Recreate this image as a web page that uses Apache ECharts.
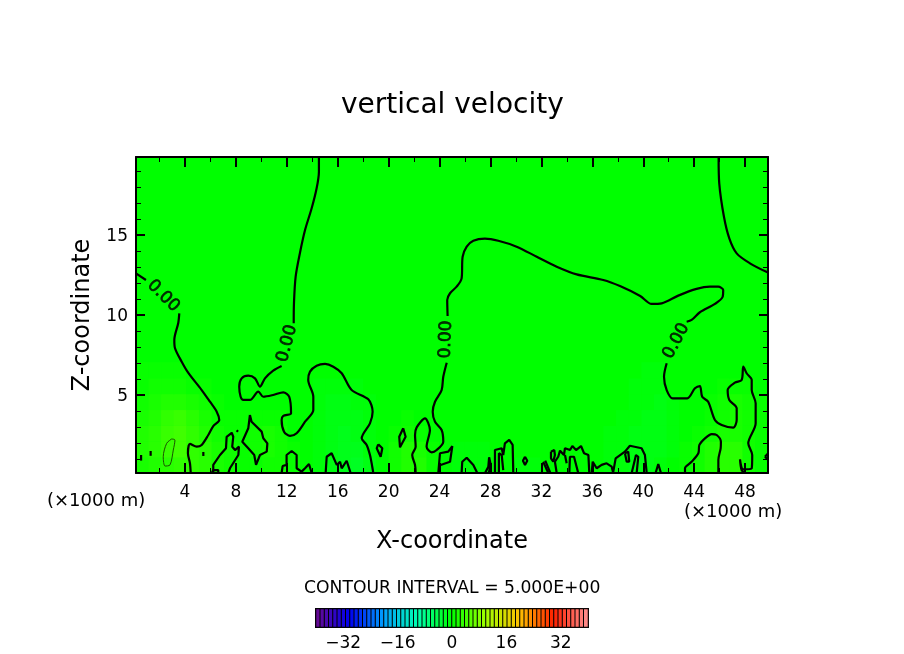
<!DOCTYPE html>
<html>
<head>
<meta charset="utf-8">
<title>vertical velocity</title>
<script src="https://cdn.jsdelivr.net/npm/echarts@6/dist/echarts.min.js"></script>
<style>
  html, body { margin: 0; padding: 0; background: #fff; }
  #chart { width: 904px; height: 654px; }
</style>
</head>
<body>
<div id="chart"></div>
<script>
const FONT = '"DejaVu Sans", sans-serif';

const xMajorTicks = [4, 8, 12, 16, 20, 24, 28, 32, 36, 40, 44, 48];
const xMinorTicks = [2, 6, 10, 14, 18, 22, 26, 30, 34, 38, 42, 46];
const zMajorTicks = [5, 10, 15];
const zMinorTicks = [1, 2, 3, 4, 6, 7, 8, 9, 11, 12, 13, 14, 16, 17, 18, 19];
const barTicks = [-32, -16, 0, 16, 32];

// shaded w field, 1 km cells, rows from the ground up (above 7 km it is plain zero)
const fieldZ0 = [1.5,2,2.5,3,3,2.5,1.5,1,0.5,0.5,1,1,0.5,0,-0.5,-1,-1.5,-2,-1,0,1,2,2,0.5,0,-0.5,-0.5,-0.5,0,0,-0.5,-0.5,0,0,0,0,0,-0.5,-0.5,-1,-1,-0.5,0,0.5,1,2,2.5,2.5,1,0.5];
const fieldZ1 = [2,2.5,3.5,4,3,2.5,1.5,1,0.5,1,1.5,1,0.5,0,-0.5,-1,-1.5,-1.5,-0.5,0,1,2,1.5,0.5,0,-0.5,-0.5,-0.5,0,0,0,0,0,0,0,0,0,-0.5,-0.5,-1,-1,-1,-0.5,0.5,1,2,2.5,2.5,1,0.5];
const fieldZ2 = [2,2.5,3.5,4,3,2,1,0.5,0.5,1,1.5,1,0,0,-0.5,-1,-1.5,-1,-0.5,0,0.5,1,0.5,0,0,0,0,0,0,0,0,0,0,0,0,0,0,-0.5,-0.5,-1,-1,-1,-0.5,0,0.5,1,1.5,1.5,1,0.5];
const fieldZ3 = [1.5,2,3,3.5,2.5,1.5,0.5,0.5,0.5,0.5,0.5,0.5,0,0,-0.5,-1,-1,-1,-0.5,0,0,0.5,0,0,0,0,0,0,0,0,0,0,0,0,0,0,0,0,-0.5,-0.5,-1,-1,-0.5,0,0,0.5,1,1.5,1,0.5];
const fieldZ4 = [1,1.5,2,2,1.5,1,0.5,0,0,0,0,0,0,0,-0.5,-1,-1,-0.5,-0.5,0,0,0,0,0,0,0,0,0,0,0,0,0,0,0,0,0,0,0,0,-0.5,-0.5,-1,-0.5,0,0,0.5,1,1.5,1,0.5];
const fieldZ5 = [0.5,1,1,1,0.5,0.5,0,0,0,0,0,0,0,0,-0.5,-0.5,-0.5,-0.5,0,0,0,0,0,0,0,0,0,0,0,0,0,0,0,0,0,0,0,0,0,-0.5,-0.5,-0.5,0,0,0,0,0.5,0.5,0.5,0];
const fieldZ6 = [0.5,0.5,0.5,0.5,0,0,0,0,0,0,0,0,0,0,0,0,0,0,0,0,0,0,0,0,0,0,0,0,0,0,0,0,0,0,0,0,0,0,0,0,-0.5,-0.5,0,0,0,0,0,0,0,0];
const fieldRows = [fieldZ0, fieldZ1, fieldZ2, fieldZ3, fieldZ4, fieldZ5, fieldZ6];

const xCells = fieldZ0.map((_, i) => i + 0.5);
const zCells = [0.5,1.5,2.5,3.5,4.5,5.5,6.5,7.5,8.5,9.5,10.5,11.5,12.5,13.5,14.5,15.5,16.5,17.5,18.5,19.5];

// colour bar levels
const barLevels = [-39.4,-38.1,-36.9,-35.6,-34.4,-33.1,-31.9,-30.6,-29.4,-28.1,-26.9,-25.6,-24.4,-23.1,-21.9,-20.6,
  -19.4,-18.1,-16.9,-15.6,-14.4,-13.1,-11.9,-10.6,-9.4,-8.1,-6.9,-5.6,-4.4,-3.1,-1.9,-0.6,
  0.6,1.9,3.1,4.4,5.6,6.9,8.1,9.4,10.6,11.9,13.1,14.4,15.6,16.9,18.1,19.4,
  20.6,21.9,23.1,24.4,25.6,26.9,28.1,29.4,30.6,31.9,33.1,34.4,35.6,36.9,38.1,39.4];

// zero contour, [x km, z km]
const c0Left = [[0.15,12.6],[0.93,12.19]];
const c0LeftLow = [[3.55,10.1],[3.47,9.5],[3.16,8.44],[3.21,7.94],[3.74,7.08],[4.26,6.38],[5.31,5.31],[5.96,4.58],[6.49,3.96],[6.69,3.44],[6.22,3.06],[5.83,2.5],[5.31,1.88],[4.92,1.77],[4.39,1.94],[4.23,1.36],[4.39,0.73],[4.45,0.125]];
const c0Mid = [[14.52,19.875],[14.52,18.96],[14.34,17.92],[13.95,16.67],[13.43,15.31],[13.03,13.88],[12.69,12.39],[12.56,10.73],[12.54,9.48]];
const c0MidLow = [[11.59,6.81],[10.93,6.52],[10.28,6.04],[9.89,5.52],[9.5,6.04],[8.97,6.21],[8.45,6.04],[8.26,5.52],[8.37,4.89],[8.58,4.69],[9.1,4.69],[9.76,5.21],[10.15,4.89],[10.93,5],[11.72,5.17],[12.19,4.89],[12.33,3.86],[11.72,3.69],[11.59,3.44],[11.78,2.71],[12.25,2.44],[12.77,2.61],[13.43,3.33],[14.08,4.06],[14.08,4.89],[13.68,5.94],[13.82,6.46],[14.34,6.83],[15,6.94],[15.65,6.77],[16.31,6.36],[17.09,5.31],[18.4,4.73],[18.74,3.96],[18.53,3.23],[17.88,2.29],[18.27,1.88],[18.53,1.25],[18.71,0.52],[18.79,0.125]];
const c0Ridge = [[24.63,9.94],[24.6,10.94],[24.82,11.36],[25.34,11.77],[25.73,12.29],[25.81,13.64],[26.13,14.27],[26.65,14.64],[27.56,14.77],[28.61,14.64],[30.05,14.27],[31.63,13.64],[33.2,13.02],[34.77,12.54],[36.86,12.19],[38.17,11.81],[39.76,11.19],[40.66,10.69],[41.45,10.73],[42.75,11.21],[44.19,11.63],[45.24,11.77],[45.89,11.77],[46.28,11.56],[46.24,11.14],[45.63,10.69],[44.45,10.17],[43.8,9.69],[43.41,9.58]];
const c0RidgeLow = [[24.56,7.02],[24.29,6.14],[24.16,5.31],[23.64,4.58],[23.46,3.96],[23.64,3.33],[24.16,2.81],[24.29,2.08],[23.77,1.56],[23.38,1.42],[22.98,1.77],[23.24,2.81],[22.85,3.54],[22.2,2.98],[22.07,2.5],[22.12,1.77],[21.85,1.25],[22.07,0.63],[22.12,0.125]];
const c0Right = [[41.84,6.98],[41.63,6.14],[41.84,5.31],[42.31,4.79],[43.46,4.79],[44.06,5.42],[44.45,5.56],[44.63,4.89],[45.1,4.58],[45.63,3.44],[46.16,3.13],[47.07,2.96],[47.34,3.44],[47.34,4.17],[46.76,4.69],[46.63,5.31],[47.2,5.77],[47.73,5.94],[47.86,6.77],[48.12,6.36],[48.52,5.94],[48.52,5.31],[48.83,4.48],[48.83,3.23],[48.25,1.98],[48.56,1.25],[48.52,0.42],[47.86,0.36],[47.6,0.98],[47.73,0.31],[48,0.125]];
const c0Corner = [[45.92,19.875],[45.97,18.23],[46.34,16.14],[46.76,14.79],[47.34,13.85],[48.38,13.23],[49.8,12.65]];
const c0Mound = [[43.28,0.125],[43.28,0.42],[43.8,0.83],[44.33,1.36],[44.41,1.88],[44.85,2.29],[45.38,2.56],[45.77,2.5],[46.1,2.08],[46.08,1.67],[45.9,0.94],[45.9,0.125]];

// small cells near the ground
const c0Cells = [
  [[0.55,1.25],[0.55,0.9]],
  [[1.3,1.5],[1.3,1.2]],
  [[5.44,1.44],[5.44,1.19]],
  [[6.1,0.125],[6.22,0.31],[6.61,0.31],[6.61,0.125]],
  [[6.22,0.19],[6.22,0.63],[6.75,1.25],[7.22,1.67],[7.27,2.39],[7.67,2.64],[7.79,2.39],[7.71,1.77],[7.93,1.56],[8.24,1.77],[8.19,1.25],[7.53,0.42],[7.4,0.125]],
  [[8.06,2.8],[8.16,2.7]],
  [[9.1,3.75],[9.23,3.33],[10.02,2.71],[10.15,2.3],[10.47,1.98],[10.42,1.46],[9.89,1.25],[9.58,0.63],[9.44,1.25],[8.97,1.67],[8.5,2.08],[8.97,2.92],[9.1,3.75]],
  [[11.59,0.125],[11.67,0.56],[11.98,0.63],[11.98,1.25],[12.38,1.5],[12.77,1.25],[12.77,0.42],[13.16,0.21],[13.43,0.42],[13.74,0.69],[13.95,0.125]],
  [[15.05,0.125],[15.13,1.14],[15.52,1.36],[15.92,0.63],[16.18,0.83],[16.31,0.42],[16.7,0.89],[17.01,0.125]],
  [[19.18,1.92],[19.5,1.67],[19.37,1.14],[19.06,1.67],[19.18,1.92]],
  [[21.14,2.92],[21.33,2.39],[20.89,1.73],[20.83,2.39],[21.14,2.92]],
  [[23.9,0.125],[24.03,1.36],[24.68,1.46],[25,1.81],[24.82,0.83],[24.08,0.63]],
  [[25.73,0.125],[25.78,0.83],[26.13,1.08],[26.65,0.63],[26.96,0.125]],
  [[27.57,0.125],[27.83,0.52],[27.89,1.11],[28.02,0.63],[27.86,0.125]],
  [[28.35,0.125],[28.35,1.56],[28.88,1.67],[29,1.25],[29.13,1.98],[29.47,2.19],[29.74,1.88],[29.79,0.125]],
  [[28.66,0.125],[28.66,1.36],[28.88,1.25],[29,0.31]],
  [[30.71,1.14],[30.89,0.89],[30.71,0.63],[30.55,0.89],[30.71,1.14]],
  [[32.14,0.83],[32.54,0.125]],
  [[32.3,0.9],[32.7,0.125]],
  [[32.75,1.46],[33.01,1.56],[33.06,1.25],[32.93,0.83],[32.75,1.04],[32.75,1.46]],
  [[33.2,0.125],[33.06,0.83],[33.32,1.14],[33.46,1.52],[33.77,1.25],[33.85,1.67],[34.25,1.56],[34.43,1.81],[34.72,1.56],[35.11,1.81],[35.35,1.36],[35.69,1.25],[35.76,0.125]],
  [[34.19,0.125],[34.24,1.14],[34.56,1.14],[34.89,0.125]],
  [[33.85,1.25],[33.98,0.73]],
  [[35.95,0.125],[36.03,0.83],[36.34,0.42],[36.73,0.63],[37.12,0.73],[37.52,0.52],[37.64,0.125]],
  [[37.64,0.18],[37.83,1.04],[38.56,1.46],[38.95,1.83],[39.87,1.67],[40.13,1.25],[40.27,0.125]],
  [[38.56,1.36],[38.82,1.46],[38.9,0.83],[38.7,0.83],[38.56,1.36]],
  [[39.09,0.125],[39.43,1.25],[39.61,1.14],[39.48,0.125]],
  [[40.97,0.125],[41.18,0.69],[41.39,0.125]],
  [[49.56,1.14],[49.8,1.34]],
  [[49.56,1.14],[49.8,0.95]]
];

// the one closed 5.00 contour, drawn thin
const c5Cell = [[2.95,2.25],[3.21,2.19],[3.08,1.56],[2.82,0.63],[2.43,0.56],[2.29,1.14],[2.56,1.98],[2.95,2.25]];

// contour labels: x, z, rotation
const contourLabels = [[2.3,11.19,-45],[12.02,8.22,75],[24.5,8.47,88],[42.6,8.37,62]];

const smoothPaths = [c0Left, c0LeftLow, c0Mid, c0MidLow, c0Ridge, c0RidgeLow, c0Right, c0Corner, c0Mound];

const X_RANGE = { min: 0.15, max: 49.8 };
const Z_RANGE = { min: 0.125, max: 19.875 };

function tickAxis(range, position, values, length, width, showLine) {
  return {
    type: 'value', ...range, position, z: 5,
    splitLine: { show: false },
    axisLine: { show: showLine, onZero: false, lineStyle: { color: '#000', width: 2 } },
    axisTick: { show: true, inside: true, length, customValues: values, lineStyle: { color: '#000', width } },
    axisLabel: { show: false }
  };
}

const tickLabel = { show: true, customValues: null, fontFamily: FONT, fontSize: 17, color: '#000' };
const titleText = (fontSize) => ({ fontFamily: FONT, fontSize, fontWeight: 'normal', color: '#000' });

const heatCells = [];
fieldRows.forEach((row, j) => row.forEach((v, i) => heatCells.push([i, j, v])));

const contourSeries = (paths, width, color, smooth) => paths.map((path) => ({
  type: 'line', xAxisIndex: 0, yAxisIndex: 0, data: path, symbol: 'none', z: 3, clip: true, smooth,
  lineStyle: { color, width }, silent: true, animation: false
}));

const chart = echarts.init(document.getElementById('chart'));

chart.setOption({
  animation: false,
  backgroundColor: '#fff',
  title: [
    { text: 'vertical velocity', left: 341, top: 92, padding: 0, textStyle: titleText(28) },
    { text: '(×1000 m)', left: 47, top: 492, padding: 0, textStyle: titleText(18) },
    { text: '(×1000 m)', left: 684, top: 503, padding: 0, textStyle: titleText(18) },
    { text: 'CONTOUR INTERVAL = 5.000E+00', left: 304, top: 580, padding: 0, textStyle: titleText(17.2) }
  ],
  grid: [
    { left: 136, top: 157, width: 632, height: 316, show: true, backgroundColor: '#00ff00', borderWidth: 0 },
    { left: 316, top: 609, width: 272, height: 18, show: true, backgroundColor: '#000', borderColor: '#000', borderWidth: 2 }
  ],
  xAxis: [
    {
      ...tickAxis(X_RANGE, 'bottom', xMajorTicks, 10, 2, true),
      axisLabel: { ...tickLabel, customValues: xMajorTicks, margin: 11 },
      name: 'X-coordinate', nameLocation: 'middle', nameGap: 57,
      nameTextStyle: { fontFamily: FONT, fontSize: 24, color: '#000' }
    },
    tickAxis(X_RANGE, 'top', xMajorTicks, 10, 2, true),
    tickAxis(X_RANGE, 'bottom', xMinorTicks, 5, 1, false),
    tickAxis(X_RANGE, 'top', xMinorTicks, 5, 1, false),
    { type: 'category', data: xCells, show: false },
    { type: 'category', gridIndex: 1, data: barLevels, show: false },
    {
      type: 'value', gridIndex: 1, min: -40, max: 40, position: 'bottom',
      splitLine: { show: false }, axisLine: { show: false }, axisTick: { show: false },
      axisLabel: {
        ...tickLabel, customValues: barTicks, margin: 8,
        formatter: (v) => String(v).replace('-', '−')
      }
    }
  ],
  yAxis: [
    {
      ...tickAxis(Z_RANGE, 'left', zMajorTicks, 9, 2, true),
      axisLabel: {
        ...tickLabel, customValues: zMajorTicks, margin: 8,
        formatter: '{nudge|{value}}',
        rich: { nudge: { fontFamily: FONT, fontSize: 17, color: '#000', padding: [4, 0, 0, 0] } }
      },
      name: 'Z-coordinate', nameLocation: 'middle', nameGap: 41, nameRotate: 90,
      nameTextStyle: { fontFamily: FONT, fontSize: 24, color: '#000' }
    },
    tickAxis(Z_RANGE, 'right', zMajorTicks, 9, 2, true),
    tickAxis(Z_RANGE, 'left', zMinorTicks, 5, 1, false),
    tickAxis(Z_RANGE, 'right', zMinorTicks, 5, 1, false),
    { type: 'category', data: zCells, show: false },
    { type: 'category', gridIndex: 1, data: ['w'], show: false }
  ],
  visualMap: {
    show: false, type: 'continuous', min: -40, max: 40, seriesIndex: [0, 1], dimension: 2,
    inRange: { color: ['#6a0a90', '#0000f0', '#00a0ff', '#00ffb0', '#00ff00', '#a0ff00', '#ffc000', '#ff2000', '#ff9090'] }
  },
  series: [
    { type: 'heatmap', xAxisIndex: 4, yAxisIndex: 4, data: heatCells, z: 1, silent: true, progressive: 0 },
    {
      type: 'heatmap', xAxisIndex: 5, yAxisIndex: 5, z: 1, silent: true, progressive: 0,
      data: barLevels.map((v, i) => [i, 0, v]),
      itemStyle: { borderColor: '#000', borderWidth: 1 }
    },
    ...contourSeries(smoothPaths, 2.2, '#000', 0.3),
    ...contourSeries(c0Cells, 2.2, '#000', false),
    ...contourSeries([c5Cell], 1, '#1a5000', 0.3),
    {
      type: 'scatter', xAxisIndex: 0, yAxisIndex: 0, symbolSize: 0, z: 4, silent: true,
      data: contourLabels.map((d) => ({
        value: [d[0], d[1]],
        label: { rotate: d[2] }
      })),
      label: {
        show: true, position: 'inside', formatter: '0.00',
        fontFamily: FONT, fontSize: 17, color: '#000',
        textBorderColor: '#000', textBorderWidth: 0.7
      }
    }
  ]
});
</script>
</body>
</html>
